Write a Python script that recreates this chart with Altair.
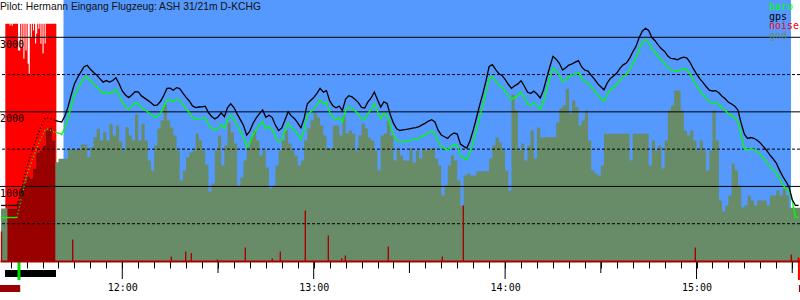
import altair as alt
import pandas as pd

# ------------------------------------------------------------------ data
TITLE = "Pilot: Hermann Eingang Flugzeug: ASH 31/21m D-KCHG"

X_DOMAIN = ["11:21:40", "15:32:26"]
Y_DOMAIN = [0, 3500]

# traces sampled once a minute, starting at GRID_START
GRID_START = "11:22"
gps = [745, 745, 745, 745, 745, 745, 880, 1059, 1254, 1384,
       1514, 1632, 1749, 1860, 1927, 1918, 1898, 1884, 1871, 1864,
       1943, 2069, 2230, 2375, 2461, 2533, 2606, 2624, 2572, 2528,
       2493, 2443, 2398, 2420, 2400, 2420, 2457, 2378, 2281, 2227,
       2191, 2227, 2270, 2268, 2214, 2184, 2154, 2121, 2085, 2092,
       2142, 2219, 2315, 2318, 2290, 2325, 2311, 2250, 2194, 2146,
       2080, 2058, 2065, 2068, 2077, 1991, 1938, 1906, 1931, 1986,
       1934, 2057, 2109, 2058, 1973, 1895, 1817, 1687, 1743, 1847,
       1918, 1977, 2026, 1927, 1955, 1923, 1821, 1751, 1785, 1894,
       2001, 1946, 1908, 1853, 1786, 1912, 2109, 2152, 2191, 2249,
       2316, 2264, 2285, 2150, 2081, 2054, 2077, 2018, 2171, 2217,
       2201, 2167, 2124, 2061, 2052, 2134, 2186, 2266, 2164, 2064,
       2134, 2112, 1962, 1848, 1774, 1750, 1757, 1764, 1773, 1782,
       1790, 1802, 1825, 1849, 1877, 1895, 1865, 1754, 1690, 1666,
       1643, 1691, 1716, 1703, 1568, 1537, 1515, 1612, 1755, 1918,
       2085, 2241, 2415, 2608, 2632, 2569, 2514, 2489, 2435, 2370,
       2316, 2349, 2375, 2418, 2347, 2265, 2245, 2277, 2239, 2186,
       2290, 2451, 2602, 2744, 2707, 2651, 2560, 2591, 2627, 2643,
       2666, 2687, 2602, 2559, 2547, 2488, 2439, 2378, 2337, 2296,
       2387, 2449, 2482, 2521, 2584, 2630, 2655, 2716, 2803, 2878,
       2994, 3082, 3121, 3091, 2997, 2954, 2894, 2847, 2811, 2749,
       2716, 2712, 2697, 2721, 2733, 2721, 2661, 2579, 2508, 2446,
       2395, 2340, 2290, 2280, 2284, 2256, 2210, 2176, 2128, 2105,
       2076, 2022, 1845, 1700, 1644, 1656, 1646, 1619, 1582, 1533,
       1482, 1421, 1371, 1314, 1219, 1136, 1069, 992, 825, 745,
       745]

baro = [583, 583, 583, 583, 583, 583, 771, 959, 1147, 1262,
        1381, 1495, 1601, 1687, 1771, 1763, 1739, 1727, 1716, 1696,
        1788, 1914, 2075, 2220, 2306, 2378, 2451, 2469, 2417, 2373,
        2338, 2288, 2243, 2265, 2245, 2265, 2302, 2223, 2126, 2072,
        2036, 2072, 2115, 2113, 2059, 2029, 1999, 1966, 1930, 1937,
        1987, 2064, 2160, 2163, 2135, 2170, 2156, 2095, 2039, 1991,
        1925, 1903, 1910, 1913, 1922, 1836, 1783, 1751, 1776, 1831,
        1779, 1902, 1954, 1903, 1818, 1740, 1662, 1532, 1588, 1692,
        1763, 1822, 1871, 1772, 1800, 1768, 1666, 1596, 1630, 1739,
        1846, 1791, 1753, 1698, 1631, 1757, 1954, 1997, 2036, 2094,
        2161, 2109, 2130, 1995, 1926, 1899, 1922, 1863, 2016, 2062,
        2046, 2012, 1969, 1906, 1897, 1979, 2031, 2111, 2009, 1909,
        1979, 1957, 1807, 1693, 1619, 1595, 1602, 1609, 1618, 1627,
        1635, 1647, 1670, 1694, 1722, 1740, 1710, 1599, 1535, 1511,
        1488, 1536, 1561, 1548, 1413, 1382, 1360, 1457, 1600, 1763,
        1930, 2086, 2260, 2453, 2477, 2414, 2359, 2334, 2280, 2215,
        2161, 2194, 2220, 2263, 2192, 2110, 2090, 2122, 2084, 2031,
        2135, 2296, 2447, 2589, 2552, 2496, 2405, 2436, 2472, 2488,
        2511, 2532, 2447, 2404, 2392, 2333, 2284, 2223, 2182, 2141,
        2232, 2294, 2327, 2366, 2429, 2475, 2500, 2561, 2648, 2723,
        2839, 2927, 2966, 2936, 2842, 2799, 2739, 2692, 2656, 2594,
        2561, 2557, 2542, 2566, 2578, 2566, 2506, 2424, 2353, 2291,
        2240, 2185, 2135, 2125, 2129, 2101, 2055, 2021, 1973, 1950,
        1921, 1867, 1690, 1500, 1489, 1501, 1491, 1464, 1427, 1378,
        1327, 1266, 1216, 1184, 1099, 1026, 969, 945, 811, 587,
        587]

gnd = [704, 704, 704, 704, 704, 811, 945, 1053, 1133, 1106,
       1240, 1455, 1482, 1549, 1750, 1790, 1616, 1325, 1370, 1370,
       1370, 1495, 1495, 1495, 1495, 1562, 1562, 1392, 1526, 1660,
       1773, 1616, 1727, 1616, 1840, 1683, 1817, 1602, 1482, 1794,
       1683, 1616, 1965, 1616, 1840, 1616, 1348, 1214, 1549, 1777,
       1884, 2099, 1884, 1790, 1683, 1482, 1080, 1214, 1392, 1455,
       1482, 1710, 1616, 1482, 1294, 932, 1039, 1482, 1683, 1281,
       1549, 1857, 1723, 1576, 1012, 1120, 1348, 1522, 1656, 1750,
       1616, 1415, 1482, 1254, 972, 1012, 1281, 1482, 1616, 1750,
       1576, 1482, 1415, 1281, 1348, 1616, 1777, 1884, 1991, 1924,
       1817, 1683, 1509, 1509, 1817, 1817, 1683, 1951, 1710, 1750,
       1710, 1482, 1683, 1844, 1777, 1656, 1616, 1482, 1214, 1683,
       1710, 1884, 1683, 1348, 1509, 1415, 1348, 1348, 1509, 1321,
       1482, 1375, 1509, 1482, 1509, 1509, 1375, 1281, 878, 1012,
       1281, 1415, 1348, 1080, 744, 1147, 1173, 1147, 1147, 1204,
       1204, 1204, 1204, 1375, 1549, 1656, 1589, 1482, 1214, 945,
       2233, 2018, 1482, 1576, 1348, 1549, 1750, 1375, 1790, 1656,
       1660, 1660, 1660, 1660, 1857, 2045, 2085, 2309, 1978, 2152,
       2062, 1817, 1884, 2018, 1616, 1214, 1173, 1147, 1281, 1706,
       1706, 1706, 1706, 1706, 1706, 1706, 1706, 1348, 1706, 1706,
       1706, 1706, 1706, 1281, 1616, 1482, 1549, 1240, 1616, 2018,
       2085, 2286, 2286, 2018, 1750, 1683, 1750, 1616, 1482, 1616,
       1482, 1214, 1482, 2018, 1616, 811, 664, 744, 878, 1308,
       1214, 1012, 717, 744, 878, 811, 744, 811, 811, 811,
       744, 878, 878, 945, 878, 972, 878, 713, 713, 713,
       713]

# engine noise, sampled every 20 s from ENGINE_NOISE_START
ENGINE_NOISE_START = "11:23:20"
engine_noise = [3181, 3181, 3181, 3181, 3158, 3181, 3154, 3181, 3181, 3181,
                3181, 3181, 2823, 2823, 3181, 2867, 3181, 2711, 3181, 2823,
                3181, 2644, 2510, 3181, 3001, 3181, 3091, 3181, 2917, 3047,
                3181, 3114, 3181, 2913, 3181, 2783, 3181, 2917, 3181, 3181,
                3181, 3181, 3181, 3181, 3181, 3181, 3181, 3181]

# isolated noise spikes during the flight
spike_times = ["11:22:08", "11:44:27", "12:15:22", "12:19:52", "12:21:38",
               "12:29:47", "12:38:34", "12:47:01", "12:49:32", "12:57:22",
               "13:04:35", "13:08:47", "13:09:55", "13:23:23", "13:40:19",
               "13:46:54", "14:59:37", "15:29:43", "15:31:55"]
spike_values = [396, 288, 60, 127, 105, 20, 181, 34, 127, 677,
                342, 38, 74, 194, 60, 744, 181, 87, 47]

SKY = ["11:41:34", "15:29:36"]
ENGINE_WINDOW = ["11:23", "11:39"]
ENGINE_RUN = ["11:23:14", "11:39:13"]
RELEASE_TIME = "11:27:37"
LANDING_TIME = "15:32:06"
marker_starts = ["11:21:40", "15:32:06"]
marker_ends = ["11:28:00", "15:32:40"]

solid_levels = [1000, 2000, 3000]
dashed_levels = [500, 1500, 2500]
level_labels = ["1000", "2000", "3000"]

legend_names = ["baro", "gps", "noise", "gnd"]
legend_colors = ["#00ff00", "#000000", "#ff0000", "#678c67"]

hour_ticks = ["12:00", "13:00", "14:00", "15:00"]
half_hour_ticks = ["12:30", "13:30", "14:30", "15:30"]
TICK_FIRST, TICK_LAST, TICK_STEP = "11:25", "15:30", 5

# ------------------------------------------------------------------ helpers
def tmin(s):
    p = [int(v) for v in s.split(":")]
    return p[0] * 60 + p[1] + (p[2] / 60 if len(p) > 2 else 0)

BLUE = "#5599ff"
GND = "#678c67"
DARKRED = "#990000"
SPIKE = "#aa0000"

t0 = tmin(GRID_START)
times = [t0 + j for j in range(len(gps))]
trace = pd.DataFrame({"t": times, "gps": gps, "baro": baro})

gnd_df = pd.DataFrame({"t": times + [times[-1] + 1], "v": gnd + [gnd[-1]]})
e0, e1 = tmin(ENGINE_WINDOW[0]), tmin(ENGINE_WINDOW[1])
dark_rows = [(t, v) for t, v in zip(times, gnd) if e0 < t < e1]
dark_rows.append((e1, dark_rows[-1][1]))
gnd_dark_df = pd.DataFrame(dark_rows, columns=["t", "v"])

n0 = tmin(ENGINE_NOISE_START)
n_t = [n0 + i / 3 for i in range(len(engine_noise))]
noise_df = pd.DataFrame({"t": n_t + [n_t[-1] + 1 / 3],
                         "v": engine_noise + [engine_noise[-1]]})

spike_df = pd.DataFrame({"t": [tmin(s) for s in spike_times], "v": spike_values})

xs = alt.Scale(domain=[tmin(X_DOMAIN[0]), tmin(X_DOMAIN[1])], nice=False, zero=False)
ys = alt.Scale(domain=Y_DOMAIN, nice=False, zero=False)

tick_vals = list(range(int(tmin(TICK_FIRST)), int(tmin(TICK_LAST)) + 1, TICK_STEP))
xaxis = alt.Axis(
    values=tick_vals, tickSize=7, tickColor="black", tickWidth=1,
    domainColor=SPIKE, domainWidth=2,
    labelExpr="datum.value % 60 == 0 ? floor(datum.value / 60) + ':00' : ''",
    labelFont="DejaVu Sans Mono", labelFontSize=10, labelColor="black",
    labelBaseline="alphabetic", labelPadding=22, labelFlush=False,
    labelOverlap=False, grid=False, title=None, zindex=1,
)


def X(f):
    return alt.X(f"{f}:Q", scale=xs, axis=xaxis)


def Y(f):
    return alt.Y(f"{f}:Q", scale=ys, axis=None)


# ------------------------------------------------------------------ layers
sky = alt.Chart(pd.DataFrame({"a": [tmin(SKY[0])], "b": [tmin(SKY[1])]})).mark_rect(
    color=BLUE).encode(x=X("a"), x2="b", y=alt.Y(datum=Y_DOMAIN[1], scale=ys, axis=None),
                       y2=alt.Y2(datum=0))

noise_area = alt.Chart(noise_df).mark_area(interpolate="step-after", color="#ff0000",
                                           clip=True).encode(x=X("t"), y=Y("v"))
gnd_area = alt.Chart(gnd_df).mark_area(interpolate="step-after", color=GND,
                                       clip=True).encode(x=X("t"), y=Y("v"))
gnd_dark = alt.Chart(gnd_dark_df).mark_area(interpolate="step-after", color=DARKRED,
                                            clip=True).encode(x=X("t"), y=Y("v"))

grid_solid = alt.Chart(pd.DataFrame({"lv": solid_levels})).mark_rule(
    color="black", strokeWidth=1).encode(y=Y("lv"))
grid_dash = alt.Chart(pd.DataFrame({"lv": dashed_levels})).mark_rule(
    color="black", strokeWidth=1, strokeDash=[3, 2]).encode(y=Y("lv"))

phases = [
    ("datum.t <= %f" % (e0 + 4), None),
    ("datum.t >= %f && datum.t <= %f" % (e0 + 4, e1), [1, 2.5]),
    ("datum.t >= %f" % e1, None),
]
trace_layers = []
for field, color in [("baro", "#00ff00"), ("gps", "#000000")]:
    for expr, dash in phases:
        kw = dict(color=color, strokeWidth=1.3, clip=True)
        if dash:
            kw["strokeDash"] = dash
            kw["strokeWidth"] = 1.4
        trace_layers.append(
            alt.Chart(trace).transform_filter(expr).mark_line(**kw).encode(
                x=X("t"), y=Y(field)))

spikes = alt.Chart(spike_df).mark_rule(color=SPIKE, strokeWidth=1.4).encode(
    x=X("t"), y=Y("v"), y2=alt.Y2(datum=0))

ylabels = alt.Chart(pd.DataFrame({"lv": solid_levels, "lab": level_labels})).mark_text(
    align="left", baseline="alphabetic", dy=10.5, font="DejaVu Sans Mono",
    fontSize=10, color="black").encode(x=alt.value(0), y=Y("lv"), text="lab:N")

title = alt.Chart(pd.DataFrame({"s": [TITLE]})).mark_text(
    align="left", baseline="alphabetic", font="Liberation Sans", fontSize=10.3,
    color="#111111").encode(x=alt.value(0), y=alt.value(9.5), text="s:N")

legend_layers = []
for i, (name, col) in enumerate(zip(legend_names, legend_colors)):
    legend_layers.append(
        alt.Chart(pd.DataFrame({"n": [name]})).mark_text(
            align="left", baseline="alphabetic", font="DejaVu Sans Mono",
            fontSize=10, color=col).encode(x=alt.value(769), y=alt.value(10 + 9.7 * i),
                                          text="n:N"))

markers = alt.Chart(pd.DataFrame({"a": [tmin(s) for s in marker_starts],
                                  "b": [tmin(s) for s in marker_ends]})).mark_rect(
    color=DARKRED).encode(x=X("a"), x2="b", y=alt.value(285), y2=alt.value(292))
engine_bar = alt.Chart(pd.DataFrame({"a": [tmin(ENGINE_RUN[0])],
                                     "b": [tmin(ENGINE_RUN[1])]})).mark_rect(
    color="black").encode(x=X("a"), x2="b", y=alt.value(270), y2=alt.value(277))
release = alt.Chart(pd.DataFrame({"t": [tmin(RELEASE_TIME)]})).mark_rule(
    color="#00dd00", strokeWidth=3).encode(x=X("t"), y=alt.value(262), y2=alt.value(280))
landing = alt.Chart(pd.DataFrame({"t": [tmin(LANDING_TIME)]})).mark_rule(
    color="#ff0000", strokeWidth=2).encode(x=X("t"), y=alt.value(258), y2=alt.value(280))

half_ticks = alt.Chart(pd.DataFrame({"t": [tmin(s) for s in half_hour_ticks]})).mark_rule(
    color="black", strokeWidth=1).encode(x=X("t"), y=alt.value(261), y2=alt.value(273))
hour_tick_marks = alt.Chart(pd.DataFrame({"t": [tmin(s) for s in hour_ticks]})).mark_rule(
    color="black", strokeWidth=1).encode(x=X("t"), y=alt.value(261), y2=alt.value(279))

chart = alt.layer(
    sky, noise_area, gnd_area, gnd_dark, grid_solid, grid_dash,
    *trace_layers, spikes, ylabels, title, *legend_layers,
    markers, engine_bar, release, landing, half_ticks, hour_tick_marks,
).properties(
    width=800, height=261,
    autosize=alt.AutoSizeParams(type="none"),
    padding={"left": 0, "top": 0, "right": 0, "bottom": 39},
    background="white",
).configure_view(stroke=None)

chart.save("out.html", embed_options={"renderer": "svg", "actions": False})
